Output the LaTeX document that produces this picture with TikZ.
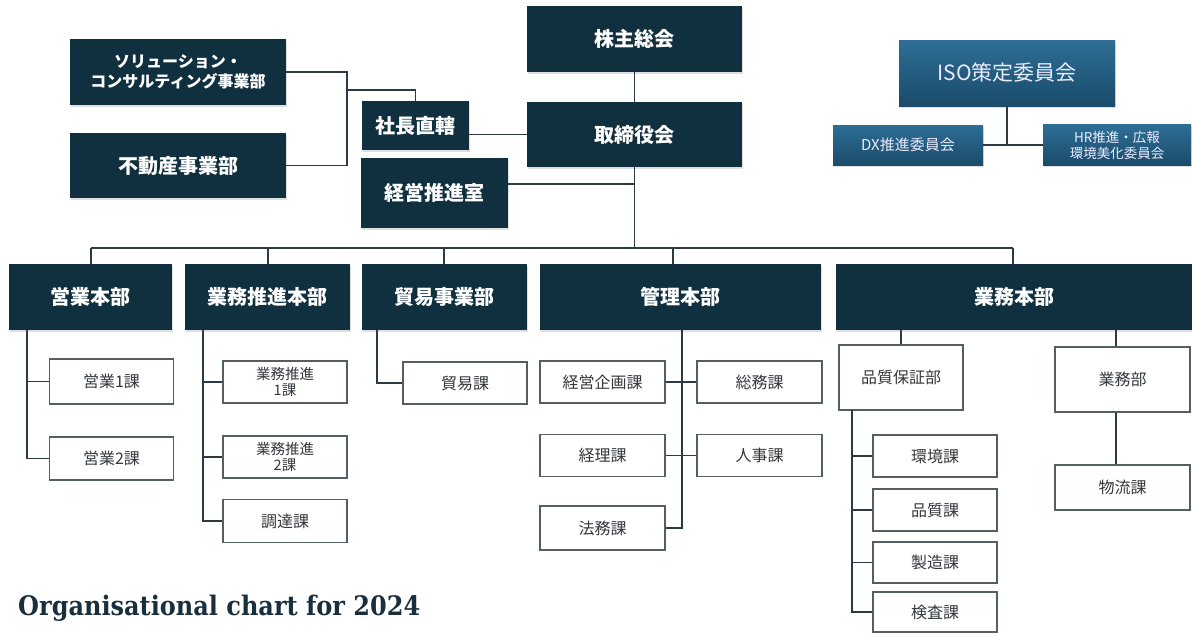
\documentclass[tikz,border=0pt]{standalone}
\usepackage{fontspec}
\newfontfamily\jp{Noto Sans CJK JP}
\newfontfamily\titlefont{DejaVu Serif}
\usetikzlibrary{calc,shadows}
\definecolor{navy}{HTML}{11303F}
\definecolor{conncol}{HTML}{2C3A44}
\definecolor{subline}{HTML}{545E65}
\definecolor{isotop}{HTML}{2E6E95}
\definecolor{isobot}{HTML}{1A4B6A}
\definecolor{subtext}{HTML}{33383D}
\definecolor{titlecol}{HTML}{1A2F3D}
\tikzset{
  darkbox/.style={fill=navy, text=white, inner sep=0pt, align=center,
    font=\jp\bfseries\fontsize{20}{24}\selectfont,
    drop shadow={opacity=0.25, shadow xshift=1.2pt, shadow yshift=-1.5pt}},
  isobox/.style={top color=isotop, bottom color=isobot, text=white!92!blue, inner sep=0pt, align=center,
    drop shadow={opacity=0.25, shadow xshift=1.2pt, shadow yshift=-1.5pt}},
  subbox/.style={draw=subline, line width=1.3pt, fill=white, text=subtext, inner sep=0pt, align=center,
    font=\jp\fontsize{16}{17}\selectfont, minimum width=124pt},
  conn/.style={draw=conncol, line width=1.8pt},
}
\begin{document}
\begin{tikzpicture}[x=1pt,y=-1pt]
\useasboundingbox (0,0) rectangle (1192,633);
% top
\node[darkbox, minimum width=215pt, minimum height=66pt] (kabu) at (634.5,39) {株主総会};
\node[darkbox, minimum width=215pt, minimum height=65pt] (tori) at (634.5,134.5) {取締役会};
\node[darkbox, minimum width=107pt, minimum height=49pt] (shacho) at (415.5,125.5) {社長直轄};
\node[darkbox, minimum width=147pt, minimum height=70pt] (keiei) at (434.5,193) {経営推進室};
\node[darkbox, minimum width=216pt, minimum height=66pt, font=\jp\bfseries\fontsize{16}{20}\selectfont] (sol) at (178,72) {ソリューション・\\コンサルティング事業部};
\node[darkbox, minimum width=216pt, minimum height=65pt] (fudo) at (178,165.5) {不動産事業部};
% ISO
\node[isobox, minimum width=216pt, minimum height=66pt, font=\jp\fontsize{21}{24}\selectfont] (iso) at (1007,73) {ISO策定委員会};
\node[isobox, minimum width=150pt, minimum height=40pt, font=\jp\fontsize{15}{17}\selectfont] (dx) at (908,145) {DX推進委員会};
\node[isobox, minimum width=148pt, minimum height=41pt, font=\jp\fontsize{13.5}{16}\selectfont] (hr) at (1117,145) {HR推進・広報\\環境美化委員会};
% headers
\node[darkbox, minimum width=163pt, minimum height=66pt] (eig) at (90.5,297) {営業本部};
\node[darkbox, minimum width=165pt, minimum height=66pt] (gsh) at (267.5,297) {業務推進本部};
\node[darkbox, minimum width=165pt, minimum height=66pt] (boe) at (444.5,297) {貿易事業部};
\node[darkbox, minimum width=281pt, minimum height=66pt] (kan) at (680.5,297) {管理本部};
\node[darkbox, minimum width=356pt, minimum height=66pt] (gyo) at (1014,297) {業務本部};
% 営業
\node[subbox, minimum height=45pt] (e1) at (111.5,381.5) {営業1課};
\node[subbox, minimum height=43pt] (e2) at (111.5,458.5) {営業2課};
% 業務推進
\node[subbox, minimum height=42pt, font=\jp\fontsize{14.5}{15.5}\selectfont] (g1) at (285,382) {業務推進\\1課};
\node[subbox, minimum height=42pt, font=\jp\fontsize{14.5}{15.5}\selectfont] (g2) at (285,457) {業務推進\\2課};
\node[subbox, minimum height=43pt] (g3) at (285,521) {調達課};
% 貿易
\node[subbox, minimum height=42pt] (b1) at (465,383) {貿易課};
% 管理
\node[subbox, minimum width=125pt, minimum height=42pt] (k1) at (602.5,382) {経営企画課};
\node[subbox, minimum width=125pt, minimum height=42pt] (k2) at (759.5,382) {総務課};
\node[subbox, minimum width=125pt, minimum height=42pt] (k3) at (602.5,455.5) {経理課};
\node[subbox, minimum width=125pt, minimum height=42pt] (k4) at (759.5,455.5) {人事課};
\node[subbox, minimum width=125pt, minimum height=44pt] (k5) at (602.5,528) {法務課};
% 業務本部
\node[subbox, minimum height=65pt] (q) at (901,377.5) {品質保証部};
\node[subbox, minimum width=135pt, minimum height=65pt] (gb) at (1122.5,379.5) {業務部};
\node[subbox, minimum width=135pt, minimum height=45pt] (bu) at (1122.5,487.5) {物流課};
\node[subbox, minimum height=42pt] (s1) at (935,456) {環境課};
\node[subbox, minimum height=42pt] (s2) at (935,510) {品質課};
\node[subbox, minimum height=41pt] (s3) at (935,562.5) {製造課};
\node[subbox, minimum height=40pt] (s4) at (935,612) {検査課};
% title
\node[anchor=base west, inner sep=0pt, text=titlecol, font=\titlefont\bfseries\fontsize{24}{28}\selectfont] (title) at (18,615) {\scalebox{1}[1.12]{Organisational chart for 2024}};
% connectors top-left
\coordinate (jl) at (347,90);
\draw[conn] (sol.east) -- (sol.east -| jl) -- (fudo.east -| jl) -- (fudo.east);
\draw[conn] (jl) -| (shacho.north);
\draw[conn] (tori.west) -- (tori.west -| shacho.east);
\draw[conn] (kabu.south) -- (tori.north);
\coordinate (bus) at (635,248);
\draw[conn] (tori.south) -- (tori.south |- bus);
\coordinate (kj) at (635,184);
\draw[conn] (kj -| keiei.east) -- (kj);
% bus
\coordinate (d1) at (91,248);
\coordinate (d2) at (268,248);
\coordinate (d3) at (444,248);
\coordinate (d4) at (673,248);
\coordinate (d5) at (1013,248);
\draw[conn] (d1) -- (d5);
\draw[conn] (d1) -- (d1 |- eig.north);
\draw[conn] (d2) -- (d2 |- gsh.north);
\draw[conn] (d3) -- (d3 |- boe.north);
\draw[conn] (d4) -- (d4 |- kan.north);
\draw[conn] (d5) -- (d5 |- gyo.north);
% ISO
\draw[conn] (iso.south) -- (iso.south |- dx.east);
\draw[conn] (dx.east) -- (hr.west);
% 営業
\coordinate (ve) at (27,330);
\draw[conn] (ve) |- (e2.west);
\draw[conn] (e1.west) -- (e1.west -| ve);
% 業務推進
\coordinate (vg) at (203,330);
\draw[conn] (vg) |- (g3.west);
\draw[conn] (g1.west) -- (g1.west -| vg);
\draw[conn] (g2.west) -- (g2.west -| vg);
% 貿易
\coordinate (vb) at (377,330);
\draw[conn] (vb) |- (b1.west);
% 管理
\coordinate (vk) at (682,330);
\draw[conn] (vk) |- (k5.east);
\draw[conn] (k1.east) -- (k2.west);
\draw[conn] (k3.east) -- (k4.west);
% 業務本部
\draw[conn] (gyo.south -| q.north) -- (q.north);
\coordinate (vgb) at (1116,330);
\draw[conn] (vgb) -- (vgb |- gb.north);
\draw[conn] (vgb |- gb.south) -- (vgb |- bu.north);
\coordinate (vq) at (852,410);
\draw[conn] (vq) |- (s4.west);
\draw[conn] (s1.west) -- (s1.west -| vq);
\draw[conn] (s2.west) -- (s2.west -| vq);
\draw[conn] (s3.west) -- (s3.west -| vq);
\end{tikzpicture}
\end{document}
